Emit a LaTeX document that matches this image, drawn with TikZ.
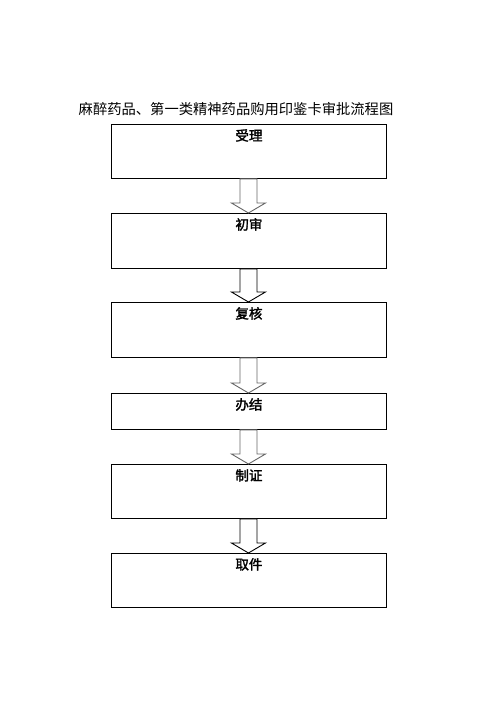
\documentclass[tikz,border=0pt]{standalone}
\usepackage{fontspec}
\newfontfamily\cjk{Noto Sans CJK SC}
\newfontfamily\cjkb{Noto Sans CJK SC}[FakeBold=2]
\begin{document}
\begin{tikzpicture}[x=1pt,y=-1pt,
  stepbox/.style={draw=black,line width=0.9pt,minimum width=275pt,inner sep=0pt,anchor=north west},
  boxlabel/.style={font=\cjkb\fontsize{13.5}{14}\selectfont,anchor=north,inner sep=0pt},
  flowarrow/.style={draw=#1,line width=0.9pt,fill=white}]
\useasboundingbox (0,0) rectangle (496,702);
\node[font=\cjk\fontsize{14.3}{15}\selectfont\addfontfeature{Weight=Light},inner sep=0pt] (title) at (236,109) {麻醉药品、第一类精神药品购用印鉴卡审批流程图};
% boxes
\node[stepbox,minimum height=54pt] (b1) at (111,124) {};
\node[stepbox,minimum height=55pt] (b2) at (111,213) {};
\node[stepbox,minimum height=55pt] (b3) at (111,302) {};
\node[stepbox,minimum height=36pt] (b4) at (111,393) {};
\node[stepbox,minimum height=54pt] (b5) at (111,464) {};
\node[stepbox,minimum height=54pt] (b6) at (111,553) {};
\node[boxlabel] (l1) at ([yshift=-5pt]b1.north) {受理};
\node[boxlabel] (l2) at ([yshift=-5pt]b2.north) {初审};
\node[boxlabel] (l3) at ([yshift=-5pt]b3.north) {复核};
\node[boxlabel] (l4) at ([yshift=-5pt]b4.north) {办结};
\node[boxlabel] (l5) at ([yshift=-5pt]b5.north) {制证};
\node[boxlabel] (l6) at ([yshift=-5pt]b6.north) {取件};
% block arrows between boxes
\foreach \a/\b/\c in {b1/b2/gray!80!black,b2/b3/black,b3/b4/gray!80!black,b4/b5/gray!80!black,b5/b6/black}{
  \path ([xshift=-0.5pt]\a.south) coordinate (s) ([xshift=-0.5pt]\b.north) coordinate (e);
  \draw[flowarrow=\c] ([xshift=-8.5pt]s) -- ([xshift=-8.5pt,yshift=10pt]e) -- ([xshift=-17pt,yshift=10pt]e)
    -- (e) -- ([xshift=17pt,yshift=10pt]e) -- ([xshift=8.5pt,yshift=10pt]e) -- ([xshift=8.5pt]s) -- cycle;
}
\end{tikzpicture}
\end{document}
